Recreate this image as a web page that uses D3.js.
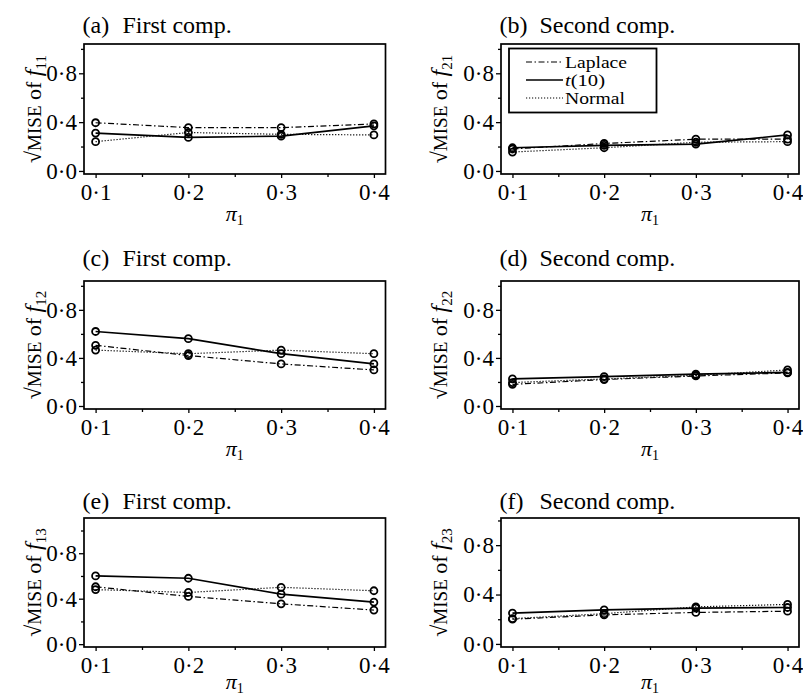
<!DOCTYPE html>
<html>
<head>
<meta charset="utf-8">
<script src="https://cdn.jsdelivr.net/npm/d3@7"></script>
<style>
  html, body { margin: 0; padding: 0; background: #fff; }
  svg { display: block; font-family: "Liberation Serif", "Times New Roman", serif; }
</style>
</head>
<body>
<svg id="fig" width="803" height="698"></svg>
<script>
// Mixing proportion on the horizontal axis
const piValues = [0.1, 0.2, 0.3, 0.4];
const xTickLabels = ["0·1", "0·2", "0·3", "0·4"];
const xMinorTicks = [0.15, 0.25, 0.35];
const yTickValues = [0, 0.4, 0.8];
const yTickLabels = ["0·0", "0·4", "0·8"];
const yMinorTicks = [0.2, 0.6, 1.0];
const seriesNames = ["Laplace", "t(10)", "Normal"];

// sqrt(MISE) of the first-component densities
const f11Laplace = [0.395, 0.355, 0.355, 0.385];
const f11T10     = [0.31, 0.275, 0.285, 0.37];
const f11Normal  = [0.24, 0.315, 0.30, 0.295];

const f12Laplace = [0.505, 0.42, 0.35, 0.30];
const f12T10     = [0.62, 0.56, 0.435, 0.35];
const f12Normal  = [0.465, 0.435, 0.465, 0.435];

const f13Laplace = [0.505, 0.42, 0.355, 0.30];
const f13T10     = [0.60, 0.58, 0.44, 0.37];
const f13Normal  = [0.48, 0.455, 0.50, 0.47];

// sqrt(MISE) of the second-component densities
const f21Laplace = [0.18, 0.225, 0.26, 0.26];
const f21T10     = [0.19, 0.21, 0.22, 0.295];
const f21Normal  = [0.155, 0.19, 0.235, 0.24];

const f22Laplace = [0.18, 0.22, 0.25, 0.275];
const f22T10     = [0.225, 0.245, 0.265, 0.28];
const f22Normal  = [0.195, 0.225, 0.255, 0.30];

const f23Laplace = [0.20, 0.235, 0.255, 0.265];
const f23T10     = [0.25, 0.275, 0.29, 0.295];
const f23Normal  = [0.205, 0.245, 0.30, 0.32];

const panels = [
  { tag: "(a)", comp: "First comp.",  sub: "11", col: 0, row: 0, yMax: 1.04, laplace: f11Laplace, t10: f11T10, normal: f11Normal, legend: false },
  { tag: "(b)", comp: "Second comp.", sub: "21", col: 1, row: 0, yMax: 1.04, laplace: f21Laplace, t10: f21T10, normal: f21Normal, legend: true },
  { tag: "(c)", comp: "First comp.",  sub: "12", col: 0, row: 1, yMax: 1.04, laplace: f12Laplace, t10: f12T10, normal: f12Normal, legend: false },
  { tag: "(d)", comp: "Second comp.", sub: "22", col: 1, row: 1, yMax: 1.04, laplace: f22Laplace, t10: f22T10, normal: f22Normal, legend: false },
  { tag: "(e)", comp: "First comp.",  sub: "13", col: 0, row: 2, yMax: 1.11, laplace: f13Laplace, t10: f13T10, normal: f13Normal, legend: false },
  { tag: "(f)", comp: "Second comp.", sub: "23", col: 1, row: 2, yMax: 1.02, laplace: f23Laplace, t10: f23T10, normal: f23Normal, legend: false }
];

// Frame geometry for the 3 x 2 grid
const colLeft   = [84, 501];
const colRight  = [385.5, 799];
const rowTop    = [44, 281, 518];
const rowBottom = [174, 409, 647];
const titleBase = [33, 265.5, 509];
const xLabelGap = [47, 47, 41.5];
const yLabelX   = [41, 447];
const yMin = -0.025;
const xDomain = [0.0875, 0.4125];

const lineStyles = {
  laplace: { dash: "6,2.5,1.5,2.5", width: 1.2 },
  t10:     { dash: null,            width: 1.7 },
  normal:  { dash: "1.2,1.8",       width: 1.2 }
};

const svg = d3.select("#fig");
svg.append("rect").attr("width", 803).attr("height", 698).attr("fill", "#fff");

panels.forEach(p => {
  const L = colLeft[p.col], R = colRight[p.col];
  const T = rowTop[p.row], B = rowBottom[p.row];
  const x = d3.scaleLinear().domain(xDomain).range([L, R]);
  const y = d3.scaleLinear().domain([yMin, p.yMax]).range([B, T]);
  const g = svg.append("g");

  // title
  g.append("text").attr("x", L - 1.5).attr("y", titleBase[p.row])
    .attr("font-size", 24).text(p.tag);
  g.append("text").attr("x", L + 38.4).attr("y", titleBase[p.row])
    .attr("font-size", 24).text(p.comp);

  // axes
  const yAxis = d3.axisLeft(y).tickValues(yTickValues).tickSize(5).tickPadding(2)
    .tickFormat((d, i) => yTickLabels[i]);
  const yMinorAxis = d3.axisLeft(y).tickValues(yMinorTicks).tickSize(3).tickFormat("");
  const xAxis = d3.axisBottom(x).tickValues(piValues).tickSize(4).tickPadding(6)
    .tickFormat((d, i) => xTickLabels[i]);
  const xMinorAxis = d3.axisBottom(x).tickValues(xMinorTicks).tickSize(3).tickFormat("");

  [[yAxis, `translate(${L},0)`], [yMinorAxis, `translate(${L},0)`],
   [xAxis, `translate(0,${B})`], [xMinorAxis, `translate(0,${B})`]].forEach(([ax, tr]) => {
    const a = g.append("g").attr("transform", tr).call(ax);
    a.select(".domain").remove();
    a.selectAll("line").attr("stroke", "#000").attr("stroke-width", 1.3);
    a.selectAll("text").attr("fill", "#000").attr("font-size", 23)
      .attr("font-family", "Liberation Serif, Times New Roman, serif");
  });

  // frame
  g.append("rect").attr("x", L).attr("y", T).attr("width", R - L).attr("height", B - T)
    .attr("fill", "none").attr("stroke", "#000").attr("stroke-width", 1.7);

  // y label
  const yl = g.append("text")
    .attr("transform", `translate(${yLabelX[p.col]},${(T + B) / 2}) rotate(-90)`)
    .attr("text-anchor", "middle").attr("font-size", 22);
  yl.append("tspan").text("√");
  yl.append("tspan").attr("font-size", 19).text("MISE");
  yl.append("tspan").text(" of ");
  yl.append("tspan").attr("font-style", "italic").attr("font-size", 24).text("f");
  yl.append("tspan").attr("font-size", 15).attr("dy", 5).text(p.sub);

  // x label
  const xl = g.append("text").attr("x", (L + R) / 2).attr("y", B + xLabelGap[p.row])
    .attr("text-anchor", "middle").attr("font-size", 22);
  xl.append("tspan").attr("font-style", "italic").text("π");
  xl.append("tspan").attr("font-size", 14).attr("dy", 4).text("1");

  // series
  const line = d3.line().x((d, i) => x(piValues[i])).y(d => y(d));
  ["normal", "laplace", "t10"].forEach(key => {
    const st = lineStyles[key];
    g.append("path").datum(p[key]).attr("d", line)
      .attr("fill", "none").attr("stroke", "#000")
      .attr("stroke-width", st.width)
      .attr("stroke-dasharray", st.dash);
  });
  ["normal", "laplace", "t10"].forEach(key => {
    g.selectAll(null).data(p[key]).enter().append("circle")
      .attr("cx", (d, i) => x(piValues[i])).attr("cy", d => y(d))
      .attr("r", 3.5).attr("fill", "none").attr("stroke", "#000").attr("stroke-width", 1.8);
  });

  // legend
  if (p.legend) {
    const lg = g.append("g");
    lg.append("rect").attr("x", L + 8).attr("y", T + 4.5).attr("width", 147.5).attr("height", 64)
      .attr("fill", "#fff").attr("stroke", "#000").attr("stroke-width", 1.8);
    const keys = ["laplace", "t10", "normal"];
    const lineY = [18, 36, 54];
    const textY = [23.5, 41.5, 59.5];
    const textW = [62, 40, 60];
    keys.forEach((k, i) => {
      const st = lineStyles[k];
      lg.append("line").attr("x1", L + 25).attr("x2", L + 62)
        .attr("y1", T + lineY[i]).attr("y2", T + lineY[i])
        .attr("stroke", "#000").attr("stroke-width", st.width).attr("stroke-dasharray", st.dash);
      const t = lg.append("text").attr("x", L + 64).attr("y", T + textY[i]).attr("font-size", 16)
        .attr("textLength", textW[i]).attr("lengthAdjust", "spacingAndGlyphs");
      if (k === "t10") {
        t.append("tspan").attr("font-style", "italic").text(seriesNames[i].slice(0, 1));
        t.append("tspan").text(seriesNames[i].slice(1));
      } else {
        t.text(seriesNames[i]);
      }
    });
  }
});
</script>
</body>
</html>
